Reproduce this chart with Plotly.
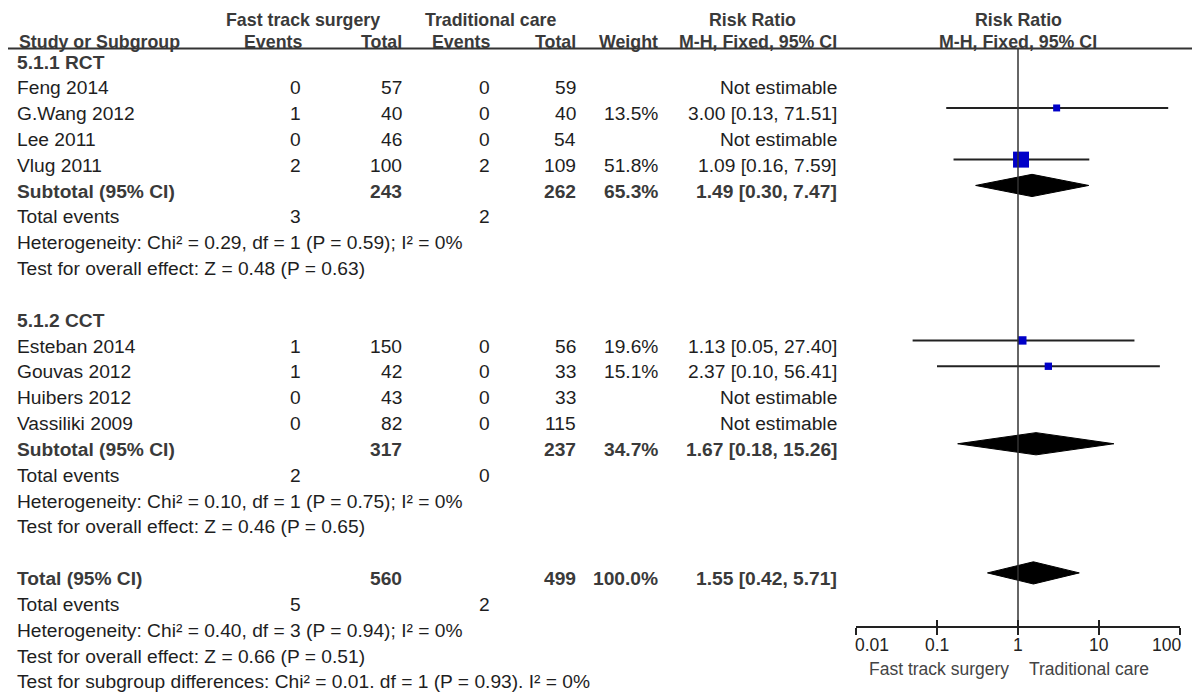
import math
import plotly.graph_objects as go

# the page puts the figure 8px in from the top-left corner
OFF = 8
W, H = 1200 - OFF, 695 - OFF
FONT = "Liberation Sans, Arial, sans-serif"
FS = 19.2
TXT = "#1e1e1e"
HDR = "#3a3a3a"

# ---------------- data ----------------
rct_names = ["Feng 2014", "G.Wang 2012", "Lee 2011", "Vlug 2011"]
rct_ft_events = [0, 1, 0, 2]
rct_ft_total = [57, 40, 46, 100]
rct_tc_events = [0, 0, 0, 2]
rct_tc_total = [59, 40, 54, 109]
rct_weight = [None, 13.5, None, 51.8]
rct_rr = [None, 3.00, None, 1.09]
rct_lo = [None, 0.13, None, 0.16]
rct_hi = [None, 71.51, None, 7.59]

cct_names = ["Esteban 2014", "Gouvas 2012", "Huibers 2012", "Vassiliki 2009"]
cct_ft_events = [1, 1, 0, 0]
cct_ft_total = [150, 42, 43, 82]
cct_tc_events = [0, 0, 0, 0]
cct_tc_total = [56, 33, 33, 115]
cct_weight = [19.6, 15.1, None, None]
cct_rr = [1.13, 2.37, None, None]
cct_lo = [0.05, 0.10, None, None]
cct_hi = [27.40, 56.41, None, None]

# subtotal / total: ft total, tc total, weight, rr, lo, hi, ft events, tc events
rct_sub = [243, 262, 65.3, 1.49, 0.30, 7.47, 3, 2]
cct_sub = [317, 237, 34.7, 1.67, 0.18, 15.26, 2, 0]
all_sub = [560, 499, 100.0, 1.55, 0.42, 5.71, 5, 2]

rct_het = "Heterogeneity: Chi² = 0.29, df = 1 (P = 0.59); I² = 0%"
rct_z = "Test for overall effect: Z = 0.48 (P = 0.63)"
cct_het = "Heterogeneity: Chi² = 0.10, df = 1 (P = 0.75); I² = 0%"
cct_z = "Test for overall effect: Z = 0.46 (P = 0.65)"
all_het = "Heterogeneity: Chi² = 0.40, df = 3 (P = 0.94); I² = 0%"
all_z = "Test for overall effect: Z = 0.66 (P = 0.51)"
sub_diff = "Test for subgroup differences: Chi² = 0.01. df = 1 (P = 0.93). I² = 0%"

tick_vals = [0.01, 0.1, 1, 10, 100]
tick_text = ["0.01", "0.1", "1", "10", "100"]
left_label = "Fast track surgery"
right_label = "Traditional care"

# ---------------- layout helpers (screen pixels) ----------------
# row i of the forest sits at ROW0_PX + i * ROW_PX; text sits a bit lower
ROW0_PX = 56.3
ROW_PX = 25.83
TEXT_SHIFT = -5.7


def row_of(px):
    return (px - ROW0_PX) / ROW_PX


def px_x(px):
    return (px - OFF) / W


def px_y(px):
    return 1 - (px - OFF) / H


# column anchors
X_NAME = 16
X_FT_EV = 302
X_FT_TOT = 403
X_TC_EV = 491
X_TC_TOT = 577
X_W = 659
X_CI = 838

fig = go.Figure()


def ann(text, x, row, anchor="right", bold=False, color=TXT, size=FS, shift=TEXT_SHIFT):
    if bold:
        text = "<b>" + text + "</b>"
    fig.add_annotation(x=px_x(x), xref="paper", y=row, yref="y", text=text,
                       showarrow=False, xanchor=anchor, yanchor="middle",
                       yshift=shift, borderpad=0,
                       font=dict(family=FONT, size=size, color=color))


def fmt_ci(rr, lo, hi):
    return "%.2f [%.2f, %.2f]" % (rr, lo, hi)


def study_rows(start, names, fe, ft, te, tt, w, rr, lo, hi):
    for i, name in enumerate(names):
        r = start + i
        ann(name, X_NAME, r, "left")
        ann(str(fe[i]), X_FT_EV, r)
        ann(str(ft[i]), X_FT_TOT, r)
        ann(str(te[i]), X_TC_EV, r)
        ann(str(tt[i]), X_TC_TOT, r)
        if w[i] is None:
            ann("Not estimable", X_CI, r)
        else:
            ann("%.1f%%" % w[i], X_W, r)
            ann(fmt_ci(rr[i], lo[i], hi[i]), X_CI, r)
            fig.add_trace(go.Scatter(x=[lo[i], hi[i]], y=[r, r], mode="lines",
                                     line=dict(color="#222", width=2),
                                     hoverinfo="skip", showlegend=False))
            fig.add_trace(go.Scatter(x=[rr[i]], y=[r], mode="markers",
                                     marker=dict(symbol="square", color="#0000c8",
                                                 size=3.8 + 0.235 * w[i],
                                                 line=dict(width=0)),
                                     hoverinfo="skip", showlegend=False))


def summary_rows(r, label, s, het, z, extra=None):
    ann(label, X_NAME, r, "left", bold=True, color=HDR)
    ann(str(s[0]), X_FT_TOT, r, bold=True, color=HDR)
    ann(str(s[1]), X_TC_TOT, r, bold=True, color=HDR)
    ann("%.1f%%" % s[2], X_W, r, bold=True, color=HDR)
    ann(fmt_ci(s[3], s[4], s[5]), X_CI, r, bold=True, color=HDR)
    h = 0.43
    fig.add_trace(go.Scatter(x=[s[4], s[3], s[5], s[3], s[4]],
                             y=[r, r - h, r, r + h, r],
                             mode="lines", fill="toself", fillcolor="black",
                             line=dict(color="black", width=1),
                             hoverinfo="skip", showlegend=False))
    ann("Total events", X_NAME, r + 1, "left")
    ann(str(s[6]), X_FT_EV, r + 1)
    ann(str(s[7]), X_TC_EV, r + 1)
    ann(het, X_NAME, r + 2, "left")
    ann(z, X_NAME, r + 3, "left")
    if extra:
        ann(extra, X_NAME, r + 4, "left")


# ---------------- headers ----------------
HS = 17.8
HEAD_LINE_PX = 48.5
r1 = row_of(19.5)
r2 = row_of(41.5)
ann("Fast track surgery", 303, r1, "center", bold=True, color=HDR, size=HS, shift=0)
ann("Traditional care", 491, r1, "center", bold=True, color=HDR, size=HS, shift=0)
ann("Risk Ratio", 752, r1, "center", bold=True, color=HDR, size=HS, shift=0)
ann("Risk Ratio", 1018, r1, "center", bold=True, color=HDR, size=HS, shift=0)
ann("Study or Subgroup", 18, r2, "left", bold=True, color=HDR, size=HS, shift=0)
ann("Events", X_FT_EV + 1, r2, bold=True, color=HDR, size=HS, shift=0)
ann("Total", X_FT_TOT, r2, bold=True, color=HDR, size=HS, shift=0)
ann("Events", X_TC_EV, r2, bold=True, color=HDR, size=HS, shift=0)
ann("Total", X_TC_TOT, r2, bold=True, color=HDR, size=HS, shift=0)
ann("Weight", X_W, r2, bold=True, color=HDR, size=HS, shift=0)
ann("M-H, Fixed, 95% CI", X_CI, r2, bold=True, color=HDR, size=HS, shift=0)
ann("M-H, Fixed, 95% CI", 1018, r2, "center", bold=True, color=HDR, size=HS, shift=0)

fig.add_shape(type="line", xref="paper", yref="paper", x0=0, x1=px_x(1198),
              y0=px_y(HEAD_LINE_PX), y1=px_y(HEAD_LINE_PX),
              line=dict(color="#333", width=2))

# ---------------- body ----------------
ann("5.1.1 RCT", X_NAME, 0, "left", bold=True, color=HDR)
study_rows(1, rct_names, rct_ft_events, rct_ft_total, rct_tc_events, rct_tc_total,
           rct_weight, rct_rr, rct_lo, rct_hi)
summary_rows(5, "Subtotal (95% CI)", rct_sub, rct_het, rct_z)

ann("5.1.2 CCT", X_NAME, 10, "left", bold=True, color=HDR)
study_rows(11, cct_names, cct_ft_events, cct_ft_total, cct_tc_events, cct_tc_total,
           cct_weight, cct_rr, cct_lo, cct_hi)
summary_rows(15, "Subtotal (95% CI)", cct_sub, cct_het, cct_z)

summary_rows(20, "Total (95% CI)", all_sub, all_het, all_z, sub_diff)

# line of no effect (drawn on the overlay axis)
AXIS_PX = 627
fig.add_trace(go.Scatter(x=[1, 1], y=[row_of(HEAD_LINE_PX), row_of(AXIS_PX)],
                         mode="lines", xaxis="x2", line=dict(color="#333", width=1.5),
                         hoverinfo="skip", showlegend=False))

# tick labels: end labels sit inside the axis span, as in RevMan
for k, (v, t) in enumerate(zip(tick_vals, tick_text)):
    anchor = "left" if k == 0 else ("right" if k == len(tick_vals) - 1 else "center")
    fig.add_annotation(x=math.log10(v), xref="x", y=row_of(645), yref="y", text=t,
                       showarrow=False, xanchor=anchor, yanchor="middle",
                       borderpad=0, xshift=-2 if anchor == "left" else (2 if anchor == "right" else 0),
                       font=dict(family=FONT, size=17.5, color="#222"))

ann(left_label, 1010, row_of(669), "right", color="#444", size=17.5, shift=0)
ann(right_label, 1028, row_of(669), "left", color="#444", size=17.5, shift=0)

xdom = [px_x(856), px_x(1180)]
common = dict(type="log", range=[-2, 2], domain=xdom, anchor="free",
              position=px_y(AXIS_PX), showgrid=False, zeroline=False,
              automargin=False, tickvals=tick_vals, tickwidth=1.5,
              tickcolor="#222", ticklen=7, showticklabels=False)
fig.update_layout(
    width=W, height=H,
    margin=dict(l=0, r=0, t=0, b=0, pad=0, autoexpand=False),
    paper_bgcolor="white", plot_bgcolor="white",
    showlegend=False,
    xaxis=dict(**common, ticks="outside", showline=True, linecolor="#222",
               linewidth=1.5),
    xaxis2=dict(**common, ticks="inside", overlaying="x", showline=False),
    yaxis=dict(range=[row_of(OFF + H), row_of(OFF)], domain=[0, 1], visible=False,
               automargin=False, fixedrange=True),
)

fig.write_html("out.html")
